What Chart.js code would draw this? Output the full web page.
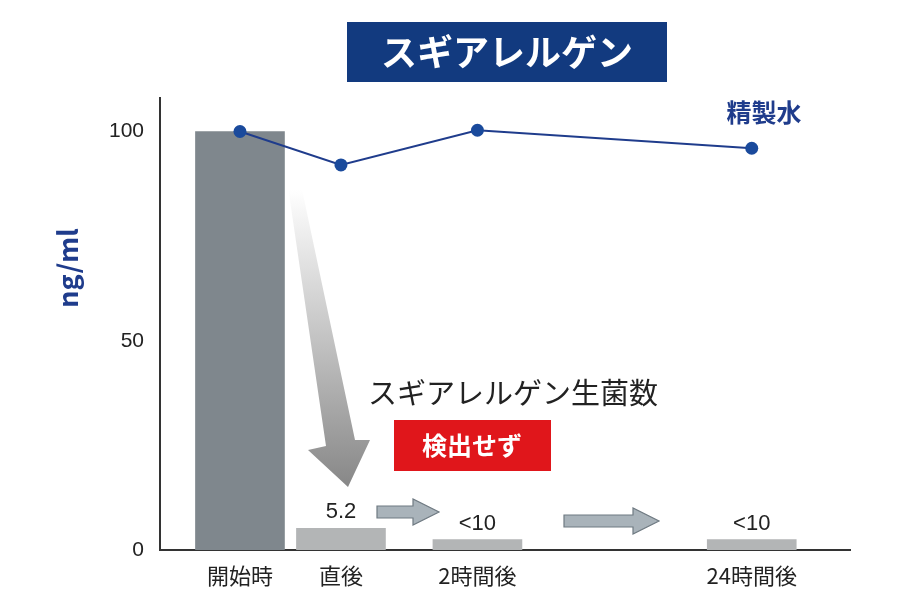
<!DOCTYPE html>
<html><head><meta charset="utf-8">
<script src="https://cdn.jsdelivr.net/npm/chart.js@4"></script>
<style>html,body{margin:0;background:#fff}#w{width:910px;height:607px}</style>
</head><body><div id="w"><canvas id="c"></canvas></div>
<script>
const categories = ['開始時','直後','2時間後','24時間後'];
const xPositions = [0, 0.74, 1.74, 3.75];
const barValues = [100, 5.2, 2.5, 2.5];
const barLabels = ['', '5.2', '<10', '<10'];
const waterValues = [100, 92, 100.3, 96];
const yTicks = [0, 50, 100];
const FONT = '"Noto Sans CJK JP","Noto Sans",sans-serif';
const navy = '#1f3c8c';

const deco = {
  id:'deco',
  afterDatasetsDraw(ch){
    const c = ch.ctx, xs = ch.scales.x, ys = ch.scales.y;
    c.save();
    c.fillStyle = '#123a7f'; c.fillRect(347,22,320,60);
    c.fillStyle = '#fff'; c.font = 'bold 36px '+FONT; c.textAlign='center'; c.textBaseline='middle';
    c.fillText('スギアレルゲン',507,52);
    c.fillStyle = navy; c.font = 'bold 25px '+FONT; c.fillText('精製水',764,112);
    c.save(); c.translate(68,268); c.rotate(-Math.PI/2);
    c.font = 'bold 27px '+FONT; c.fillText('ng/ml',0,0); c.restore();
    const g = c.createLinearGradient(0,190,0,485);
    g.addColorStop(0,'rgba(255,255,255,1)'); g.addColorStop(1,'#888');
    c.fillStyle = g; c.beginPath();
    c.moveTo(287,180); c.lineTo(300,180); c.lineTo(355,440); c.lineTo(370,440);
    c.lineTo(348,487); c.lineTo(308,450); c.lineTo(326,446); c.closePath(); c.fill();
    function arrow(x,y,w){
      c.fillStyle='#a9b3ba'; c.strokeStyle='#6f7a82'; c.lineWidth=1.2;
      c.beginPath(); c.moveTo(x,y-6); c.lineTo(x+w-26,y-6); c.lineTo(x+w-26,y-13); c.lineTo(x+w,y);
      c.lineTo(x+w-26,y+13); c.lineTo(x+w-26,y+6); c.lineTo(x,y+6); c.closePath(); c.fill(); c.stroke();
    }
    arrow(377,512,62); arrow(564,521,95);
    c.fillStyle='#222'; c.font='29px '+FONT; c.textAlign='left';
    c.fillText('スギアレルゲン生菌数',368,393);
    c.fillStyle='#e0161b'; c.fillRect(394,420,157,51);
    c.fillStyle='#fff'; c.font='bold 25px '+FONT; c.textAlign='center'; c.fillText('検出せず',472,445);
    c.fillStyle='#222'; c.font='22px "Liberation Sans",sans-serif';
    barLabels.forEach((t,i)=>{ if(!t) return;
      c.fillText(t, xs.getPixelForValue(xPositions[i]), ys.getPixelForValue(barValues[i])-16); });
    c.restore();
  }
};

new Chart(document.getElementById('c'),{
  data:{datasets:[
    {type:'line', data:xPositions.map((x,i)=>({x,y:waterValues[i]})), borderColor:navy, backgroundColor:navy,
     borderWidth:2, pointRadius:6.5, pointBackgroundColor:'#1a4a9c', pointBorderWidth:0, order:0},
    {type:'bar', data:xPositions.map((x,i)=>({x,y:barValues[i]})), barThickness:89,
     backgroundColor:['#7f878d','#b3b5b6','#b3b5b6','#b3b5b6'], order:1}
  ]},
  options:{responsive:true, maintainAspectRatio:false, animation:false,
    layout:{padding:{top:98,right:60,bottom:12,left:0}},
    plugins:{legend:{display:false},tooltip:{enabled:false}},
    scales:{
      x:{type:'linear', offset:false, min:-0.586, max:4.47, grid:{display:false, offset:false},
        border:{color:'#333',width:2},
        afterBuildTicks(s){ s.ticks = xPositions.map(v=>({value:v})); },
        afterFit(s){ s.height = 45; },
        ticks:{autoSkip:false, maxRotation:0, color:'#222', font:{size:22,family:FONT}, padding:4,
          callback:(v)=>{ const i=xPositions.indexOf(v); return i>=0?categories[i]:''; }}},
      y:{min:0, max:108, grid:{display:false, drawTicks:true}, border:{color:'#333',width:2},
        afterBuildTicks(s){ s.ticks = yTicks.map(v=>({value:v})); },
        afterFit(s){ s.width = 160; },
        ticks:{color:'#222', font:{size:21,family:'"Liberation Sans",sans-serif'}, padding:8}}
    }}
  , plugins:[deco]});
</script></body></html>
